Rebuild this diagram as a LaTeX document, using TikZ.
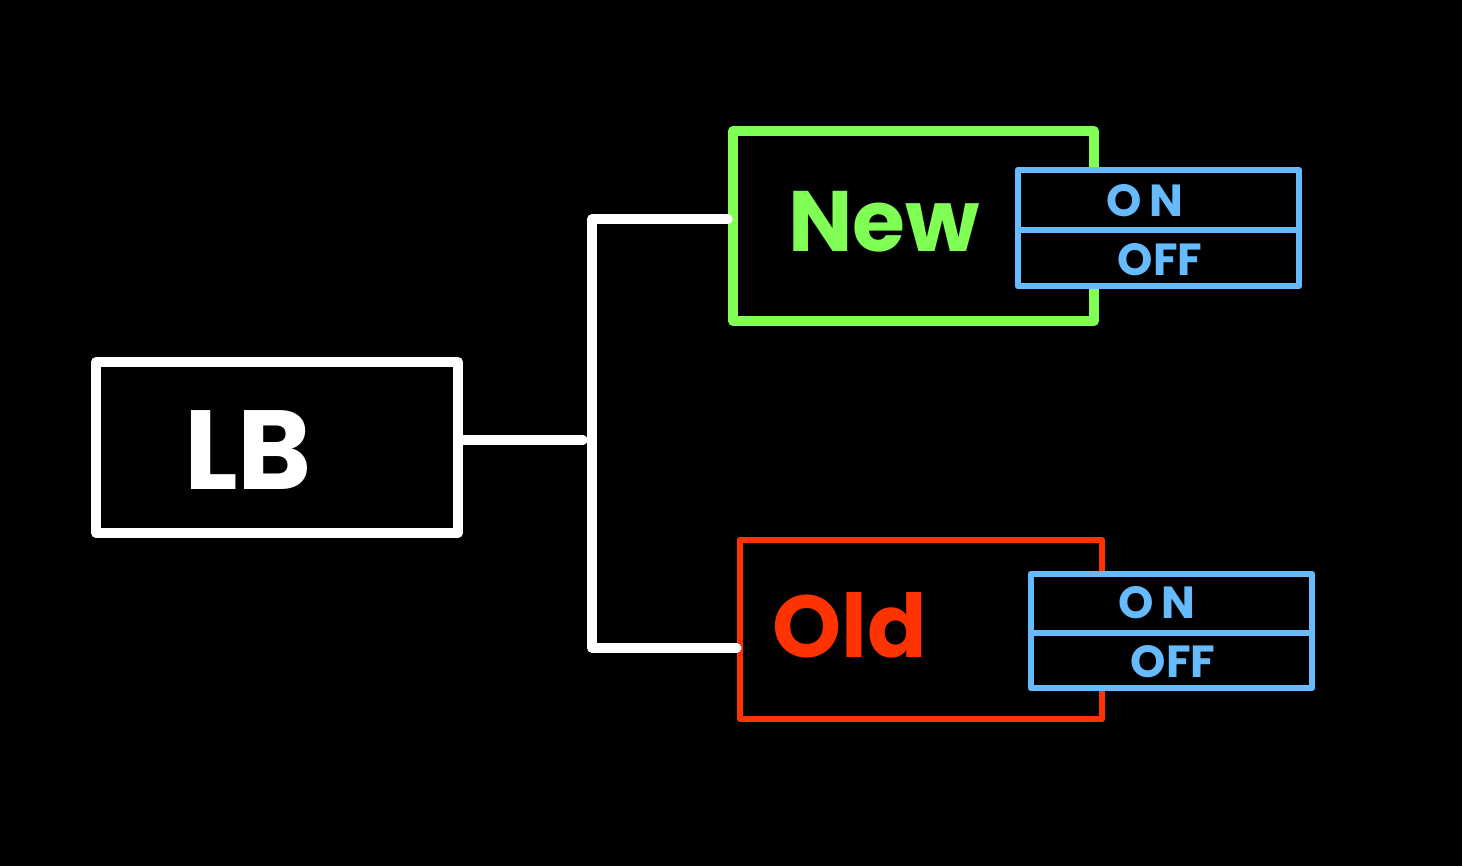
\documentclass[tikz,border=0pt]{standalone}
\usepackage{fontspec}
\setmainfont{Poppins}
\definecolor{penwhite}{HTML}{FFFFFF}
\definecolor{pengreen}{HTML}{80FF55}
\definecolor{penred}{HTML}{FF3300}
\definecolor{penblue}{HTML}{66BBFF}
\tikzset{
  box/.style={draw, line width=14pt, line join=round, line cap=round, rectangle, inner sep=0pt},
  switchbox/.style={draw=penblue, fill=black, line width=9.5pt, line join=round, rectangle, inner sep=0pt,
    minimum width=14.05cm},
  wire/.style={draw=penwhite, line width=13pt, line cap=round, line join=round},
  bigtxt/.style={inner sep=0pt},
  smalltxt/.style={font=\fontsize{64}{64}\selectfont\bfseries, text=penblue, inner sep=0pt},
}
\begin{document}
\begin{tikzpicture}[x=0.05cm, y=-0.05cm]
\fill[black] (0,0) rectangle (1462,866);
\useasboundingbox (0,0) rectangle (1462,866);
% boxes
\node[box, draw=penwhite, minimum width=18.1cm, minimum height=8.55cm] (lb) at (277,447.5) {};
\node[box, draw=pengreen, minimum width=18.05cm, minimum height=9.5cm] (new) at (913.5,226) {};
\node[box, draw=penred, line width=9pt, minimum width=18.1cm, minimum height=8.95cm] (old) at (921,629.5) {};
% labels
\node[bigtxt, text=penwhite, font=\fontsize{160}{160}\selectfont\bfseries] (lbt) at (248,450) {LB};
\node[bigtxt, text=pengreen, font=\fontsize{122}{122}\selectfont\bfseries] (newt) at (884,222) {New};
\node[bigtxt, text=penred, font=\fontsize{125}{125}\selectfont\bfseries] (oldt) at (850,625) {Old};
% switches
\node[switchbox, minimum height=5.8cm] (sw1) at (1158.5,228) {};
\draw[penblue, line width=9.5pt] (sw1.west |- 0,230) coordinate (d1l) -- (sw1.east |- 0,230) coordinate (d1r);
\node[smalltxt] (on1) at (1145,201) {O\,N};
\node[smalltxt] (off1) at (1160,260) {OFF};
\node[switchbox, minimum height=5.7cm] (sw2) at (1171.5,631) {};
\draw[penblue, line width=9.5pt] (sw2.west |- 0,633) coordinate (d2l) -- (sw2.east |- 0,633) coordinate (d2r);
\node[smalltxt] (on2) at (1157,603) {O\,N};
\node[smalltxt] (off2) at (1173,662) {OFF};
% connectors
\coordinate (jmid) at (592,440);
\coordinate (jtop) at (592,219);
\coordinate (jbot) at (592,648);
\draw[wire] (lb.east |- jmid) -- (583,440);
\draw[wire] (new.west |- jtop) -- (jtop) -- (jbot) -- (old.west |- jbot);
\end{tikzpicture}
\end{document}
